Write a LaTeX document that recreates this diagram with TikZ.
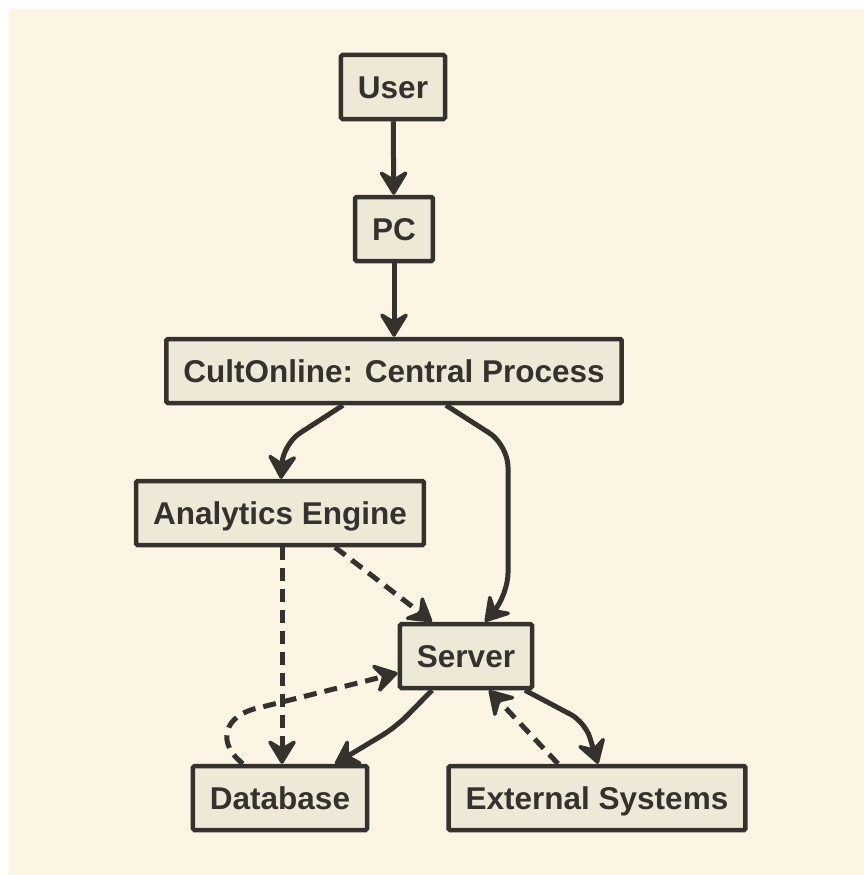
\documentclass[tikz,border=0pt]{standalone}
\usepackage{fontspec}
\setmainfont{Liberation Sans}
\usetikzlibrary{arrows.meta,calc}
\definecolor{bgc}{HTML}{FDF5E4}
\definecolor{boxc}{HTML}{EEE8D6}
\definecolor{inkc}{HTML}{35322D}
\tikzset{
  box/.style={draw=inkc, fill=boxc, line width=4.5pt, rounded corners=1.5pt,
    minimum height=64pt, inner xsep=17pt, inner ysep=0pt, text=inkc,
    text height=22.5pt, text depth=0pt,
    font=\fontsize{31.5}{36}\selectfont\bfseries},
  conn/.style={draw=inkc, line width=5pt,
    arrows={-{Stealth[length=28pt,width=34pt,inset=10pt,line width=3.5pt,round]}}},
  dconn/.style={conn, dash pattern=on 13pt off 8pt},
}
\begin{document}
\begin{tikzpicture}[x=1pt,y=-1pt]
\fill[white] (0,0) rectangle (864,875);
\fill[bgc] (9,9) rectangle (864,875);
\useasboundingbox (0,0) rectangle (864,875);

\node[box] (user) at (393,87) {User};
\node[box] (pc) at (394,229) {PC};
\node[box] (cult) at (394,371) {CultOnline: Central Process};
\node[box] (ana) at (280,513) {Analytics Engine};
\node[box] (srv) at (466,656) {Server};
\node[box] (db) at (280,798) {Database};
\node[box] (ext) at (597,798) {External Systems};

\draw[conn] (user) -- (pc);
\draw[conn] (pc) -- (cult);
\draw[conn, rounded corners=20pt] ($(cult.south)+(-51,0)$) -- (283,444) -- (ana.north -| 281,0);
\draw[conn, rounded corners=22pt] ($(cult.south)+(52,0)$) -- (508,445) -- (508,595) -- ($(srv.north)+(19,0)$);
\draw[dconn] ($(ana.south)+(55,0)$) -- ($(srv.north)+(-34,0)$);
\draw[dconn] ($(ana.south)+(2,0)$) -- ($(db.north)+(2,0)$);
\draw[dconn] ($(db.north)+(-37,0)$) .. controls (218,745) and (220,715) .. (262,707) -- ($(srv.west)+(0,17)$);
\draw[conn, rounded corners=16pt] ($(srv.south)+(-34,0)$) -- (396,727) -- ($(db.north)+(55,0)$);
\draw[dconn] ($(ext.north)+(-39,0)$) -- ($(srv.south)+(23,0)$);
\draw[conn, rounded corners=16pt] ($(srv.south)+(59,0)$) -- (585,722) -- ($(ext.north)+(1,0)$);
\end{tikzpicture}
\end{document}
